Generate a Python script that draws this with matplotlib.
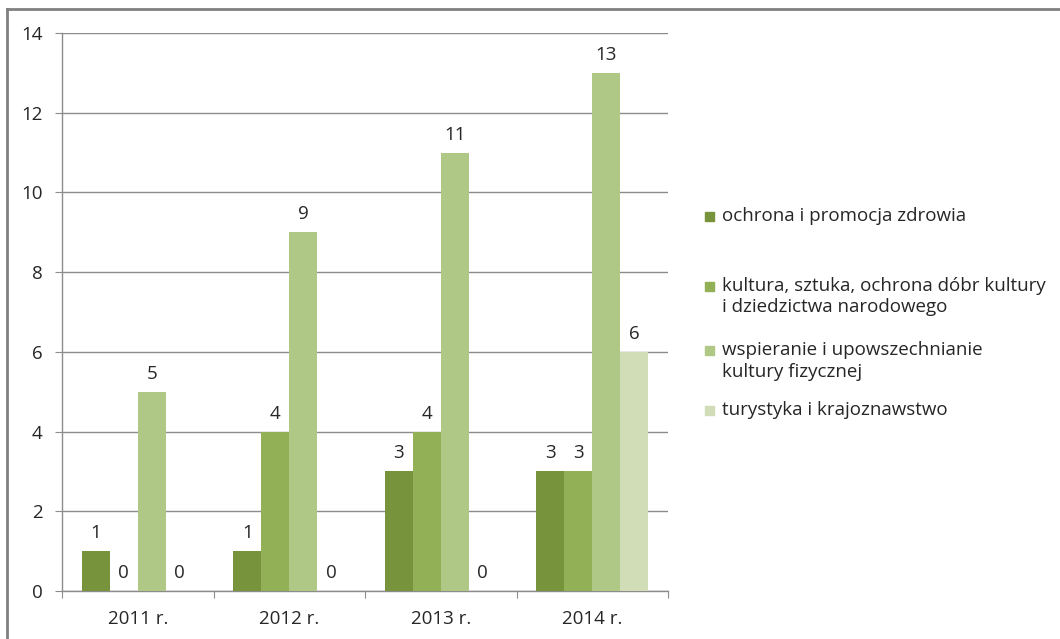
import matplotlib
matplotlib.use("Agg")
import matplotlib.pyplot as plt
from matplotlib.patches import Rectangle
from matplotlib.lines import Line2D
import numpy as np

plt.rcParams['font.family'] = ['Open Sans', 'DejaVu Sans']

categories = ['2011 r.', '2012 r.', '2013 r.', '2014 r.']
series_names = [
    'ochrona i promocja zdrowia',
    'kultura, sztuka, ochrona dóbr kultury\ni dziedzictwa narodowego',
    'wspieranie i upowszechnianie\nkultury fizycznej',
    'turystyka i krajoznawstwo',
]
ochrona = [1, 1, 3, 3]
kultura = [0, 4, 4, 3]
sport = [5, 9, 11, 13]
turystyka = [0, 0, 0, 6]
values = [ochrona, kultura, sport, turystyka]
colors = ['#77933C', '#92B056', '#AFC886', '#D0DDB7']
yticks = [0, 2, 4, 6, 8, 10, 12, 14]

W, H = 1060, 639
fig = plt.figure(figsize=(W / 100, H / 100), dpi=100)
ax = fig.add_axes([62 / W, 1 - 591 / H, (668 - 62) / W, (591 - 33) / H])

x = np.arange(len(categories))
bw = 0.185
fs = 13.5
txt = '#262626'
for i, (vals, col) in enumerate(zip(values, colors)):
    pos = x + (i - 1.5) * bw
    ax.bar(pos, vals, width=bw, color=col, zorder=3)
    for p, v in zip(pos, vals):
        ax.annotate(str(v), (p, v), xytext=(0, 6.5), textcoords='offset points',
                    ha='center', va='bottom', fontsize=fs, color=txt)

ax.set_xlim(-0.5, len(categories) - 0.5)
ax.set_ylim(0, 14)
ax.set_yticks(yticks)
ax.set_yticklabels([str(t) for t in yticks], fontsize=fs, color=txt)
ax.yaxis.grid(True, color='#8C8C8C', linewidth=1, zorder=0)
ax.set_axisbelow(True)
ax.set_xticks(np.arange(-0.5, len(categories), 1.0))
ax.set_xticklabels([])
ax.set_xticks(x, minor=True)
ax.set_xticklabels(categories, minor=True, fontsize=fs, color=txt)
ax.tick_params(axis='x', which='major', length=5, color='#8C8C8C', direction='out')
ax.tick_params(axis='x', which='minor', length=0, pad=14)
ax.tick_params(axis='y', length=5, color='#8C8C8C', pad=9)
for s in ['top', 'right']:
    ax.spines[s].set_visible(False)
for s in ['left', 'bottom']:
    ax.spines[s].set_color('#8C8C8C')
    ax.spines[s].set_linewidth(1)

# legend (manual)
leg_y = [[216], [286, 307], [350, 372], [410]]
for name, col, ys in zip(series_names, colors, leg_y):
    fig.patches.append(Rectangle((705 / W, 1 - (ys[0] + 4.5) / H), 9 / W, 9 / H,
                                 transform=fig.transFigure, color=col, figure=fig))
    for line, yy in zip(name.split('\n'), ys):
        fig.text(722 / W, 1 - yy / H, line, fontsize=fs, color=txt,
                 va='center', ha='left')

# chart border
fig.lines.append(Line2D([7 / W, 1], [1 - 9 / H, 1 - 9 / H], transform=fig.transFigure,
                        color='#808080', linewidth=2))
fig.lines.append(Line2D([7 / W, 7 / W], [0, 1 - 9 / H], transform=fig.transFigure,
                        color='#808080', linewidth=2))

fig.savefig('out.png', dpi=100)
